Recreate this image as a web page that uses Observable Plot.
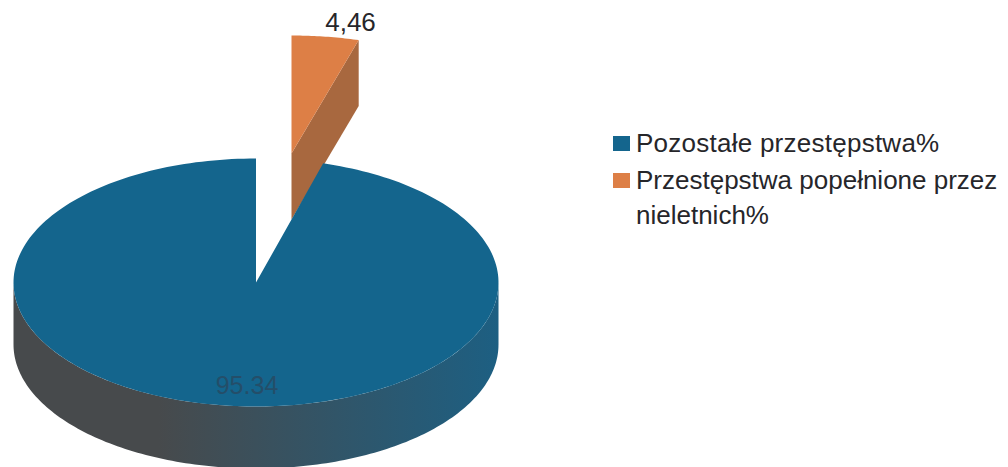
<!DOCTYPE html>
<html lang="pl">
<head>
<meta charset="utf-8">
<script src="https://cdn.jsdelivr.net/npm/d3@7"></script>
<script src="https://cdn.jsdelivr.net/npm/@observablehq/plot@0.6"></script>
<style>
html,body{margin:0;padding:0;background:#fff;overflow:hidden;width:1008px;height:467px}
#wrap{position:relative;display:flex;width:1008px;height:467px;font-family:"Liberation Sans",Arial,sans-serif;color:#26262a}
#legend{position:absolute;left:613px;top:126px;width:395px;font-size:26px;line-height:35px}
.row{display:flex;align-items:flex-start;gap:6px}
.row:first-child{letter-spacing:.25px;margin-bottom:2px}
.swatch{flex:none;width:17px;height:15px;margin-top:10px}
</style>
</head>
<body>
<div id="wrap"><div id="chart"></div><div id="legend"></div></div>
<script>
const categories = ["Pozostałe przestępstwa%", "Przestępstwa popełnione przez nieletnich%"];
const shares = [95.34, 4.46];
const shareLabels = ["95.34", "4,46"];
const topColors = ["#14658d", "#dd7f46"];
const sideColors = ["#a8683f"];
const sideGradient = ["#474a4c", "#1d5f82"];

const W = 580, H = 467;
const cx = 255.5, cy = 282, rx = 242.5, ry = 124, depth = 62;
const popX = 35.5, popY = -129, popRy = 118, popDepth = 66;

const total = d3.sum(shares);
const popAngle = 2 * Math.PI * shares[1] / total;
const onRim = (a, r = ry, dx = 0, dy = 0) => ({x: cx + dx + rx * Math.sin(a), y: cy + dy - r * Math.cos(a)});
const sweep = (a0, a1, n) => d3.range(n + 1).map(i => a0 + (a1 - a0) * i / n);

// Large slice: top face and the visible front wall
const bigTop = [{x: cx, y: cy}, ...sweep(popAngle, 2 * Math.PI, 240).map(a => onRim(a))];
const bigSide = [
  ...sweep(Math.PI / 2, 3 * Math.PI / 2, 160).map(a => onRim(a)),
  ...sweep(3 * Math.PI / 2, Math.PI / 2, 160).map(a => onRim(a, ry, 0, depth))
];

// Pulled-out slice
const apex = {x: cx + popX, y: cy + popY};
const popTop = [apex, ...sweep(0, popAngle, 24).map(a => onRim(a, popRy, popX, popY))];
const edge = onRim(popAngle, popRy, popX, popY);
const popSide = [apex, edge, {x: edge.x, y: edge.y + popDepth}, {x: apex.x, y: apex.y + popDepth}];

const labels = [
  {x: cx - 9, y: 385, text: shareLabels[0], size: 25, color: "#244e69"},
  {x: cx + popX + 59, y: 22, text: shareLabels[1], size: 26, color: "#26262a"}
];

const defs = () => {
  const s = d3.create("svg:defs");
  const g = s.append("linearGradient").attr("id", "wall").attr("x1", 0).attr("x2", 1).attr("y1", 0).attr("y2", 0);
  g.append("stop").attr("offset", "0.3").attr("stop-color", sideGradient[0]);
  g.append("stop").attr("offset", "1").attr("stop-color", sideGradient[1]);
  return s.node();
};

const poly = (pts, fill) => Plot.line(pts, {x: "x", y: "y", fill, stroke: "none", curve: "linear-closed"});

const chart = Plot.plot({
  width: W,
  height: H,
  margin: 0,
  style: {background: "#fff", display: "block"},
  x: {domain: [0, W], range: [0, W], axis: null},
  y: {domain: [0, H], range: [0, H], axis: null},
  marks: [
    defs,
    poly(popSide, sideColors[0]),
    poly(popTop, topColors[1]),
    poly(bigSide, "url(#wall)"),
    poly(bigTop, topColors[0]),
    ...labels.map(d => Plot.text([d], {
      x: "x", y: "y", text: "text", fill: d.color, fontSize: d.size,
      fontFamily: "Liberation Sans, Arial, sans-serif", textAnchor: "middle"
    }))
  ]
});
document.getElementById("chart").append(chart);

const legend = d3.select("#legend");
categories.forEach((c, i) => {
  const row = legend.append("div").attr("class", "row");
  row.append("span").attr("class", "swatch").style("background", topColors[i]);
  row.append("span").text(c);
});
</script>
</body>
</html>
